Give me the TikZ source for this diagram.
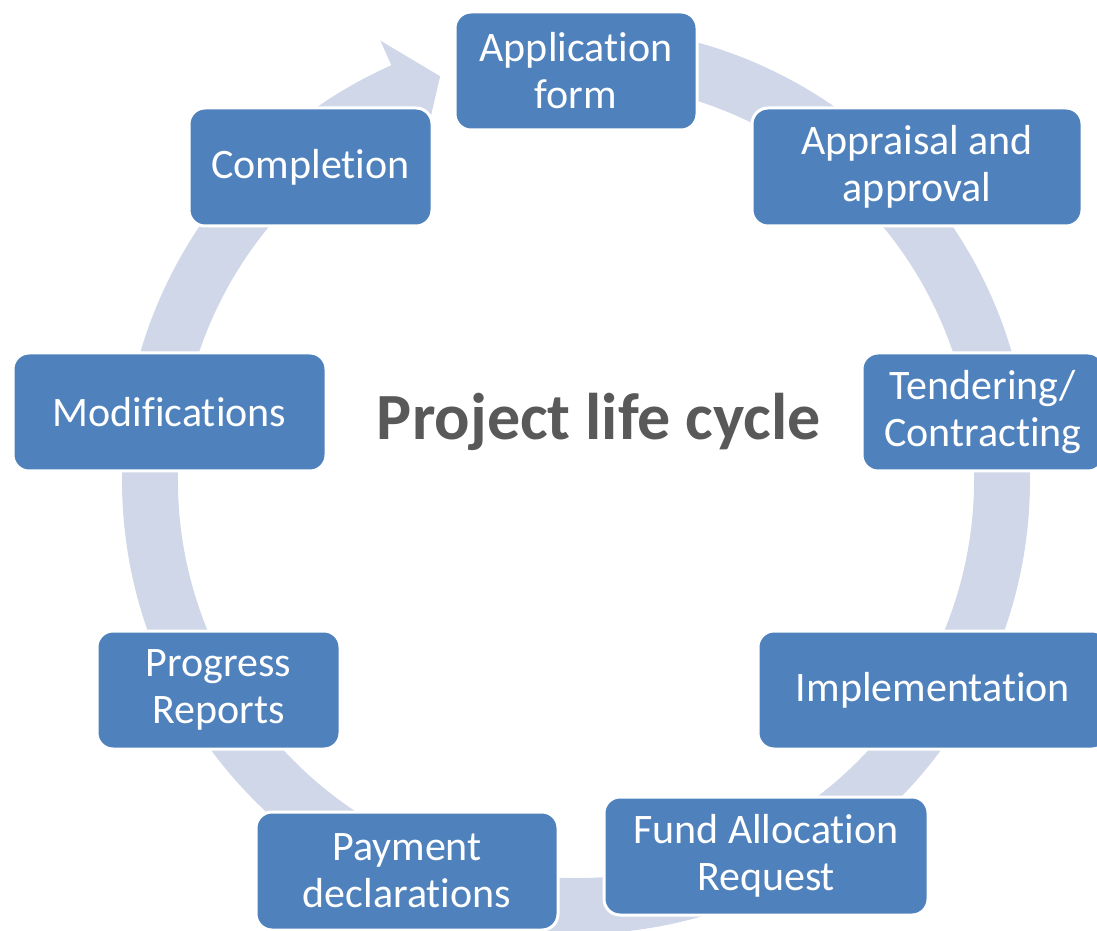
\documentclass[tikz,border=0pt]{standalone}
\usepackage{fontspec}
\setmainfont{Carlito}[Ligatures=NoCommon]
\definecolor{boxblue}{RGB}{79,129,189}
\definecolor{ringcol}{RGB}{208,215,232}
\definecolor{titlegray}{RGB}{89,89,89}
\begin{document}
\begin{tikzpicture}[x=1pt,y=1pt,
  stage/.style={draw=white, line width=3pt, fill=boxblue, rounded corners=16pt,
    text=white, font=\fontsize{42}{47}\selectfont, align=center,
    minimum height=118pt, inner sep=0pt}]
\useasboundingbox (0,0) rectangle (1097,930);
\coordinate (c) at (576,450);
\fill[ringcol] ([shift={(c)}]90:454) arc[start angle=90,end angle=-246,radius=454]
  -- ([shift={(c)}]-246:481) -- ([shift={(c)}]-251.4:426)
  -- ([shift={(c)}]-246:371) -- ([shift={(c)}]-246:398)
  arc[start angle=-246,end angle=90,radius=398] -- cycle;
\node[stage, minimum width=242pt] (app) at (576,859) {Application\\form};
\node[stage, minimum width=330pt] (appr) at (917,763) {Appraisal and\\approval};
\node[stage, minimum width=242pt] (tend) at (983,518) {Tendering/\\Contracting};
\node[stage, minimum width=350pt] (impl) at (933,240) {Implementation};
\node[stage, minimum width=324pt] (fund) at (766,74) {Fund Allocation\\Request};
\node[stage, minimum width=302pt] (pay) at (407,59) {Payment\\declarations};
\node[stage, minimum width=243pt] (prog) at (218.5,240) {Progress\\Reports};
\node[stage, minimum width=313pt] (mod) at (169.5,518) {Modifications};
\node[stage, minimum width=243pt] (comp) at (310.5,763) {Completion};
\node[anchor=base, text=titlegray, font=\fontsize{66}{72}\selectfont\bfseries] (title) at (599,490) {Project life cycle};
\end{tikzpicture}
\end{document}
